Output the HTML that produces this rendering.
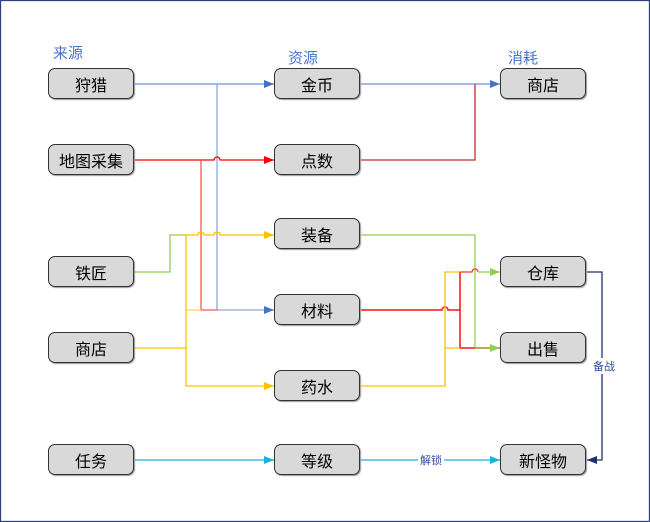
<!DOCTYPE html><html><head><meta charset="utf-8"><style>
body{margin:0;background:#fff}
.b{position:absolute;width:86px;height:31px;background:#d9d9d9;border:1px solid #333;border-radius:7px;font:16px "Liberation Sans","Noto Sans CJK SC",sans-serif;display:flex;align-items:center;justify-content:center;box-sizing:border-box;box-shadow:1px 1px 1px #999}
.h{position:absolute;color:#4a76c8;font:15px "Liberation Sans","Noto Sans CJK SC",sans-serif}
</style></head><body>
<div style="position:relative;width:650px;height:522px;overflow:hidden">
<svg width="650" height="522" style="position:absolute;left:0;top:0" fill="none" stroke-width="1.3">
<defs>
<marker id="bl" markerWidth="10" markerHeight="8" refX="10" refY="4" orient="auto" markerUnits="userSpaceOnUse"><path d="M0 0L10 4L0 8z" fill="#4472c4" stroke="none"/></marker>
<marker id="rd" markerWidth="10" markerHeight="8" refX="10" refY="4" orient="auto" markerUnits="userSpaceOnUse"><path d="M0 0L10 4L0 8z" fill="#f00" stroke="none"/></marker>
<marker id="yl" markerWidth="10" markerHeight="8" refX="10" refY="4" orient="auto" markerUnits="userSpaceOnUse"><path d="M0 0L10 4L0 8z" fill="#ffc000" stroke="none"/></marker>
<marker id="gr" markerWidth="10" markerHeight="8" refX="10" refY="4" orient="auto" markerUnits="userSpaceOnUse"><path d="M0 0L10 4L0 8z" fill="#92d050" stroke="none"/></marker>
<marker id="cy" markerWidth="10" markerHeight="8" refX="10" refY="4" orient="auto" markerUnits="userSpaceOnUse"><path d="M0 0L10 4L0 8z" fill="#1ab0e0" stroke="none"/></marker>
<marker id="nv" markerWidth="10" markerHeight="8" refX="10" refY="4" orient="auto" markerUnits="userSpaceOnUse"><path d="M0 0L10 4L0 8z" fill="#1f2f6f" stroke="none"/></marker>
</defs>
<rect x="0.5" y="0.5" width="649" height="521" stroke="#2f3f7f"/>
<path d="M135 84H274" stroke="#6f8fd8" marker-end="url(#bl)"/>
<path d="M217 84V310H274" stroke="#8fa8dc" marker-end="url(#bl)"/>
<path d="M135 160H214a3 3 0 0 1 6 0H274" stroke="#f00" marker-end="url(#rd)"/>
<path d="M201 160V310H217" stroke="#f55"/>
<path d="M135 272H170V235H186" stroke="#92d050"/>
<path d="M186 235H198a3 3 0 0 1 6 0H214a3 3 0 0 1 6 0H274" stroke="#ffc000" marker-end="url(#yl)"/>
<path d="M135 348H186M186 235V386H274" stroke="#ffc000" marker-end="url(#yl)"/>
<path d="M186 310H201" stroke="#ffd070"/>
<path d="M361 84H500" stroke="#6f8fd8" marker-end="url(#bl)"/>
<path d="M361 160H475V84" stroke="#c03030"/>
<path d="M361 235H475V348" stroke="#92d050"/>
<path d="M361 310H442a3 3 0 0 1 6 0H460M460 272V348H500" stroke="#f33" stroke-width="1.8"/>
<path d="M460 272H472a3 3 0 0 1 6 0" stroke="#f33"/>
<path d="M478 272H500" stroke="#92d050" marker-end="url(#gr)"/>
<path d="M475 348H500" stroke="#92d050" marker-end="url(#gr)"/>
<path d="M361 386H445V272H460M445 348H460" stroke="#ffc000"/>
<path d="M587 272H602V460H587" stroke="#1f2f6f" marker-end="url(#nv)"/>
<path d="M135 460H274" stroke="#1ab0e0" marker-end="url(#cy)"/>
<path d="M361 460H500" stroke="#1ab0e0" marker-end="url(#cy)"/>
<rect x="592" y="358" width="24" height="16" fill="#fff" stroke="none"/>
<rect x="418" y="452" width="26" height="16" fill="#fff" stroke="none"/>
<text x="593" y="370" font-size="11" fill="#3050a0" stroke="none" font-family="Liberation Sans,Noto Sans CJK SC,sans-serif">备战</text>
<text x="420" y="464" font-size="11" fill="#3050a0" stroke="none" font-family="Liberation Sans,Noto Sans CJK SC,sans-serif">解锁</text>
</svg>
<div class="h" style="left:53px;top:42px">来源</div>
<div class="h" style="left:288px;top:47px">资源</div>
<div class="h" style="left:508px;top:47px">消耗</div>
<div class="b" style="left:48px;top:68px">狩猎</div>
<div class="b" style="left:48px;top:144px">地图采集</div>
<div class="b" style="left:48px;top:256px">铁匠</div>
<div class="b" style="left:48px;top:332px">商店</div>
<div class="b" style="left:48px;top:444px">任务</div>
<div class="b" style="left:274px;top:68px">金币</div>
<div class="b" style="left:274px;top:144px">点数</div>
<div class="b" style="left:274px;top:218px">装备</div>
<div class="b" style="left:274px;top:294px">材料</div>
<div class="b" style="left:274px;top:370px">药水</div>
<div class="b" style="left:274px;top:444px">等级</div>
<div class="b" style="left:500px;top:68px">商店</div>
<div class="b" style="left:500px;top:256px">仓库</div>
<div class="b" style="left:500px;top:332px">出售</div>
<div class="b" style="left:500px;top:444px">新怪物</div>
</div></body></html>
